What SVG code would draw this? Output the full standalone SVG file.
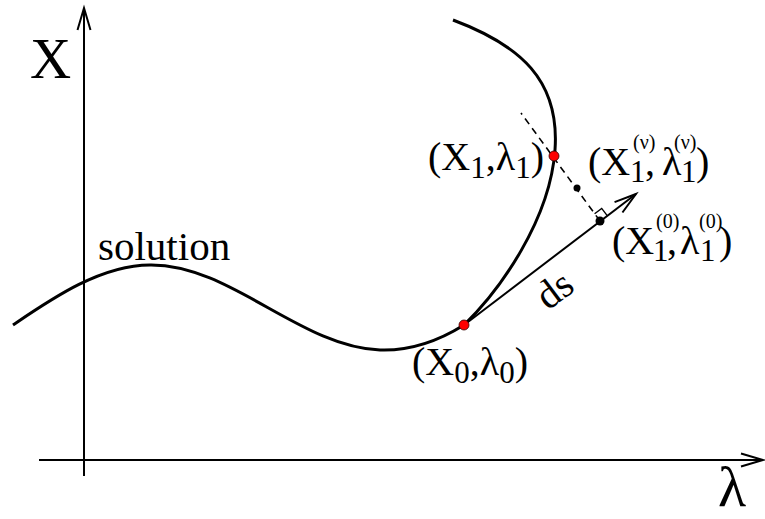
<svg xmlns="http://www.w3.org/2000/svg" width="765" height="519" viewBox="0 0 765 519" font-family="'Liberation Serif', 'DejaVu Serif', serif">
<defs>
<style>
text{font-family:'Liberation Serif','DejaVu Serif',serif;fill:#000}
.lbl{font-size:40px}
.sub{font-size:31px}
.sup{font-size:20px}
.axis{stroke:#000;stroke-width:2;fill:none}
.curve{stroke:#000;stroke-width:3;fill:none}
.red{fill:#f00;stroke:#300;stroke-width:0.8}
.blk{fill:#000}
</style>
<marker id="arr" markerUnits="userSpaceOnUse" markerWidth="30" markerHeight="20" viewBox="-24 -10 30 20" refX="0" refY="0" orient="auto">
<path d="M-22,-6.5 L0,0 L-22,6.5" fill="none" stroke="#000" stroke-width="2"/>
</marker>
</defs>
<rect width="765" height="519" fill="#fff"/>
<g id="connectors">
<line class="axis" x1="84" y1="476" x2="84" y2="8" marker-end="url(#arr)"/>
<line class="axis" x1="39" y1="460" x2="763" y2="460" marker-end="url(#arr)"/>
<path class="curve" d="M13,325 C50,300 100,265 150,265 C230,264 300,347 380,350 C410,351 440,340 464,325 C500,290 550,220 555,150 C560,80 520,45 453,20"/>
<line x1="464" y1="325" x2="636" y2="194" stroke="#000" stroke-width="2" marker-end="url(#arr)"/>
<line x1="600" y1="221" x2="521" y2="113" stroke="#000" stroke-width="1.6" stroke-dasharray="7 5"/>
<polyline points="607.2,215.6 601.7,208.4 594.6,213.8" fill="none" stroke="#000" stroke-width="1.4"/>
</g>
<g id="axis-labels">
<text x="30" y="78" font-size="57">X</text>
<text x="718" y="506" font-size="58">λ</text>
</g>
<g id="solution-label"><text x="98" y="260" font-size="41">solution</text></g>
<g id="p0">
<circle class="red" cx="464" cy="325" r="5"/>
<text class="lbl" x="412" y="375">(X<tspan class="sub" dy="8">0</tspan><tspan dy="-8">,λ</tspan><tspan class="sub" dy="8">0</tspan><tspan dy="-8">)</tspan></text>
</g>
<g id="p1">
<circle class="red" cx="554" cy="156" r="5"/>
<text class="lbl" x="428" y="170">(X<tspan class="sub" dy="8">1</tspan><tspan dy="-8">,λ</tspan><tspan class="sub" dy="8">1</tspan><tspan dy="-8">)</tspan></text>
</g>
<g id="pnu">
<circle class="blk" cx="577" cy="188" r="3.5"/>
<text class="lbl" x="588" y="175">(X</text>
<text class="sub" x="630" y="182">1</text>
<text class="sup" x="633" y="149">(ν)</text>
<text class="lbl" x="645" y="175">,</text>
<text class="lbl" x="662" y="175">λ</text>
<text class="sub" x="681" y="182">1</text>
<text class="sup" x="674" y="149">(ν)</text>
<text class="lbl" x="696" y="175">)</text>
</g>
<g id="p0guess">
<circle class="blk" cx="600" cy="221" r="4.5"/>
<text class="lbl" x="612" y="254">(X</text>
<text class="sub" x="653" y="261">1</text>
<text class="sup" x="656" y="228">(0)</text>
<text class="lbl" x="667" y="254">,</text>
<text class="lbl" x="680" y="254">λ</text>
<text class="sub" x="700" y="261">1</text>
<text class="sup" x="699" y="228">(0)</text>
<text class="lbl" x="719" y="254">)</text>
</g>
<g id="ds-label"><text class="lbl" transform="translate(548,311) rotate(-37)">ds</text></g>
</svg>
